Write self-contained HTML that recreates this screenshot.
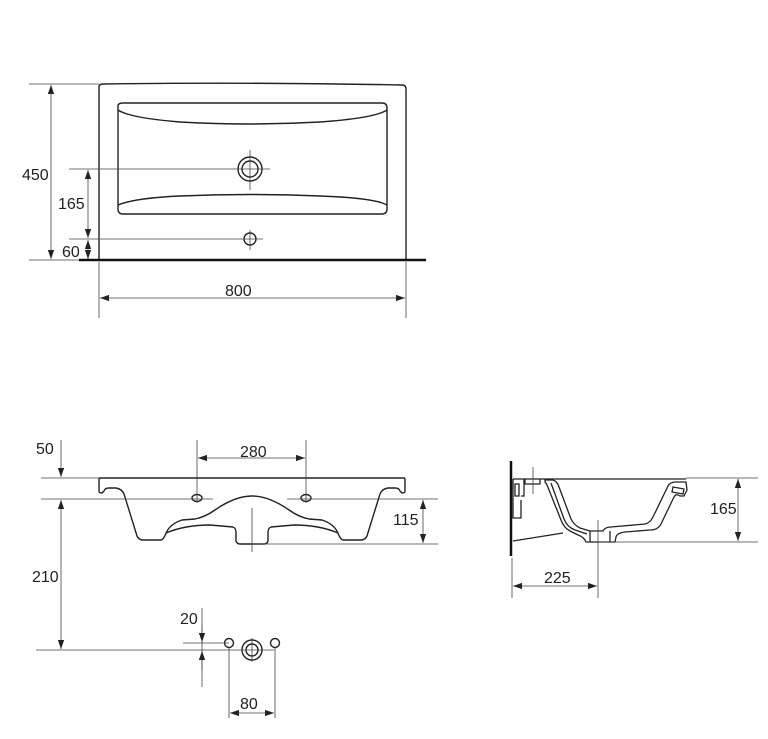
<!DOCTYPE html>
<html><head><meta charset="utf-8"><style>
html,body{margin:0;padding:0;background:#fff;}
svg{display:block;}
text{font-family:"Liberation Sans",Arial,sans-serif;font-size:16px;fill:#222;}
</style></head><body>
<svg width="768" height="739" viewBox="0 0 768 739" xmlns="http://www.w3.org/2000/svg">
<defs>
<marker id="a" viewBox="0 0 10 10" refX="10" refY="5" markerWidth="9" markerHeight="9" markerUnits="userSpaceOnUse" orient="auto-start-reverse"><path d="M0,1.5 L10,5 L0,8.5 z" fill="#222"/></marker>
</defs>
<g fill="none" stroke="#222" stroke-width="1.4">
<!-- TOP VIEW -->
<path d="M99,87 Q99,84 103,84 Q250,82 402,85 Q406,85 406,89 L406,260 M99,87 L99,260"/>
<path d="M118,106 Q118,103 123,103 L382,103 Q387,103 387,108 L387,209 Q387,214 382,214 L123,214 Q118,214 118,209 Z"/>
<path d="M118,110 Q130,118 180,122 Q250,126 320,122 Q375,118 387,110"/>
<path d="M118,205 Q135,198 180,196 Q250,193 320,196 Q375,198 387,205"/>
<circle cx="250" cy="169" r="12"/><circle cx="250" cy="169" r="8"/>
<circle cx="250" cy="239" r="6"/>
</g>
<g fill="none" stroke="#444" stroke-width="0.8">
<path d="M29,84 H99 M29,260 H79 M69,169 H270 M250,150 V190 M69,239 H263 M250,230 V250 M99,262 V318 M406,262 V318"/>
<line x1="51" y1="85" x2="51" y2="259" marker-start="url(#a)" marker-end="url(#a)"/>
<line x1="88" y1="170" x2="88" y2="238" marker-start="url(#a)" marker-end="url(#a)"/>
<line x1="88" y1="240" x2="88" y2="259" marker-start="url(#a)" marker-end="url(#a)"/>
<line x1="100" y1="298" x2="405" y2="298" marker-start="url(#a)" marker-end="url(#a)"/>
</g>
<line x1="79" y1="260" x2="426" y2="260" stroke="#111" stroke-width="2.5"/>
<text x="22" y="180">450</text><text x="58" y="209">165</text><text x="62" y="257">60</text><text x="225" y="296">800</text>

<!-- FRONT VIEW -->
<g fill="none" stroke="#222" stroke-width="1.4">
<path id="fh" d="M252,478 H100 Q99,478 99,480 L99,491 Q99,493 102,493 L104,491 Q105,488 109,488 L116,488 Q122,489 124,494 L137,536 Q139,540 143,540 L161,540 Q164,539 166,533 Q170,524 182,520 L195,519 Q205,517 215,510 Q235,496 252,496 M166,533 Q185,525 210,525 L233,527 Q236,528 236,533 L236,541 Q237,544 240,544 L252,544"/>
<use href="#fh" transform="translate(504,0) scale(-1,1)"/>
<ellipse cx="197" cy="498" rx="5" ry="3.5"/><ellipse cx="306" cy="498" rx="5" ry="3.5"/>
<circle cx="229" cy="643" r="4.5"/><circle cx="275" cy="643" r="4.5"/>
<circle cx="252" cy="650" r="10"/><circle cx="252" cy="650" r="6"/>
</g>
<g fill="none" stroke="#444" stroke-width="0.8">
<path d="M41,478 H99 M41,499 H213 M287,499 H438 M197,440 V503 M306,440 V503 M252,508 V552 M252,544 H438 M36,650 H230 M183,643 H229 M230,650 H274 M252,638 V662 M229,647 V718 M275,647 V718 M202,608 V687"/>
<line x1="61" y1="440" x2="61" y2="477" marker-end="url(#a)"/>
<line x1="61" y1="500" x2="61" y2="649" marker-start="url(#a)" marker-end="url(#a)"/>
<line x1="198" y1="458" x2="305" y2="458" marker-start="url(#a)" marker-end="url(#a)"/>
<line x1="423" y1="500" x2="423" y2="543" marker-start="url(#a)" marker-end="url(#a)"/>
<line x1="202" y1="625" x2="202" y2="642" marker-end="url(#a)"/>
<line x1="202" y1="670" x2="202" y2="651" marker-end="url(#a)"/>
<line x1="230" y1="713" x2="274" y2="713" marker-start="url(#a)" marker-end="url(#a)"/>
</g>
<text x="36" y="454">50</text><text x="240" y="457">280</text><text x="393" y="525">115</text><text x="32" y="582">210</text><text x="180" y="624">20</text><text x="240" y="709">80</text>

<!-- SIDE VIEW -->
<line x1="511" y1="461" x2="511" y2="556" stroke="#111" stroke-width="2.5"/>
<g fill="none" stroke="#222" stroke-width="1.3">
<path d="M513,479 H686"/>
<path d="M513,541 L563,533"/>
<path d="M513,479 V518 H521 V500 M521,496 H524 V479"/>
<path d="M515,484 H519 V496 H515 Z"/>
<path d="M525,479 V484 H540 V479"/>
<path d="M545,480 L553,480 Q557,481 559,487 L571,519 Q574,525 580,528 L590,531 L603,531 Q605,527 611,527 L645,524 Q650,523 653,517 L668,486 Q670,482 676,482 L686,482 L687,490 L684,496 L680,496 Q676,493 674,497 L661,524 Q658,530 650,530 L625,532 Q617,533 616,537 L615,542 L586,542 Q584,537 578,535 L570,531 Q564,528 561,520 L549,490 Q547,484 545,482 Z"/>
<path d="M551,483 L564,519 Q567,527 575,530 L587,534"/>
<path d="M590,531 V542 M610,531 V542"/>
<path d="M673,487 L684,489 L683,494 L672,492 Z"/>
</g>
<g fill="none" stroke="#444" stroke-width="0.8">
<path d="M686,478 H758 M598,542 H758 M533,467 V494 M598,520 V598 M512,558 V598"/>
<line x1="738" y1="479" x2="738" y2="541" marker-start="url(#a)" marker-end="url(#a)"/>
<line x1="513" y1="586" x2="597" y2="586" marker-start="url(#a)" marker-end="url(#a)"/>
</g>
<text x="710" y="514">165</text><text x="544" y="583">225</text>
</svg>
</body></html>
